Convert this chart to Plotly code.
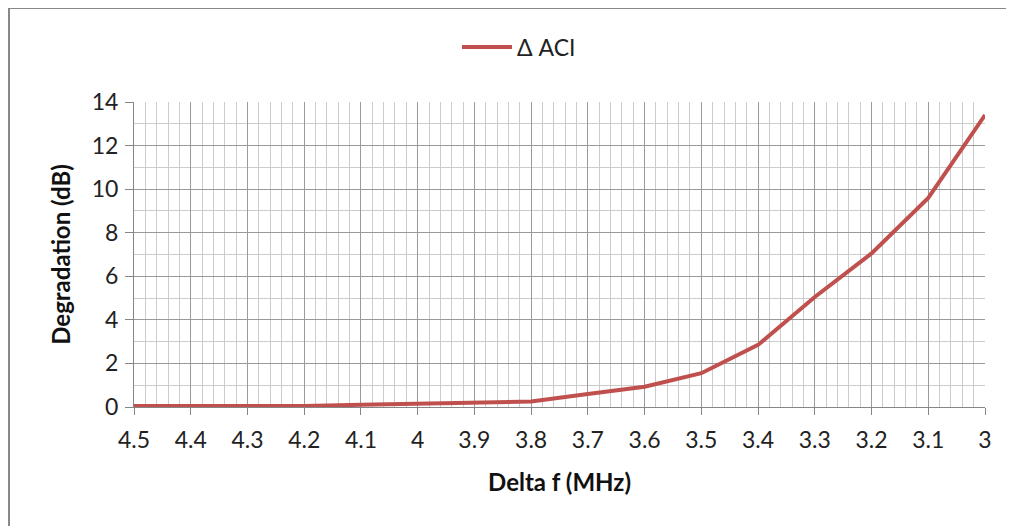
import plotly.graph_objects as go

delta_f = [4.5, 4.4, 4.3, 4.2, 4.1, 4.0, 3.9, 3.8, 3.7, 3.6, 3.5, 3.4, 3.3, 3.2, 3.1, 3.0]
degradation = [0.05, 0.05, 0.05, 0.05, 0.1, 0.15, 0.2, 0.25, 0.6, 0.93, 1.55, 2.85, 5.05, 7.05, 9.6, 13.4]
x_ticks = [4.5, 4.4, 4.3, 4.2, 4.1, 4.0, 3.9, 3.8, 3.7, 3.6, 3.5, 3.4, 3.3, 3.2, 3.1, 3.0]
x_tick_labels = ["4.5", "4.4", "4.3", "4.2", "4.1", "4", "3.9", "3.8", "3.7", "3.6", "3.5", "3.4", "3.3", "3.2", "3.1", "3"]
y_ticks = [0, 2, 4, 6, 8, 10, 12, 14]
series_name = "Δ ACI"

FONT = "Lato"
OFF = 8  # page body margin
W, H = 1014 - OFF, 526 - OFF
L, T = 134 - OFF, 102 - OFF
R = W - (985 - OFF)
B = H - (407 - OFF)
pw, ph = W - L - R, H - T - B

def px_x(x):
    return (x - OFF - L) / pw

def px_y(y):
    return (H - B - (y - OFF)) / ph

fig = go.Figure()
fig.add_trace(go.Scatter(
    x=delta_f, y=degradation, mode="lines", name=series_name,
    line=dict(color="#C0504D", width=4),
))

fig.update_layout(
    width=W, height=H,
    margin=dict(l=L, r=R, t=T, b=B, autoexpand=False),
    paper_bgcolor="white", plot_bgcolor="white",
    font=dict(family=FONT, size=23, color="#222222"),
    showlegend=True,
    legend=dict(
        orientation="h", x=px_x(519), xanchor="center",
        y=px_y(47), yanchor="middle",
        font=dict(family=FONT, size=23, color="#222222"),
        itemwidth=50, bgcolor="rgba(0,0,0,0)",
    ),
    xaxis=dict(
        range=[4.5, 3.0], tickmode="array", tickvals=x_ticks, ticktext=x_tick_labels,
        showgrid=True, gridcolor="#9a9a9a", gridwidth=1,
        minor=dict(dtick=0.02, tick0=3.0, showgrid=True, gridcolor="#cccccc", gridwidth=1, ticks=""),
        showline=True, linecolor="#868686", linewidth=1, mirror=False,
        ticks="outside", ticklen=7, tickcolor="#868686",
        ticklabelstandoff=5,
        tickfont=dict(family=FONT, size=23, color="#222222"),
        title=dict(text="<b>Delta f (MHz)</b>", font=dict(family=FONT, size=24, color="#111111"), standoff=22),
        zeroline=False,
    ),
    yaxis=dict(
        range=[0, 14], tickmode="array", tickvals=y_ticks,
        showgrid=True, gridcolor="#9a9a9a", gridwidth=1,
        minor=dict(dtick=1, showgrid=True, gridcolor="#cccccc", gridwidth=1, ticks=""),
        showline=True, linecolor="#868686", linewidth=1,
        ticks="outside", ticklen=8, tickcolor="#868686",
        ticklabelstandoff=2,
        tickfont=dict(family=FONT, size=23, color="#222222"),
        title=dict(text="<b>Degradation (dB)</b>", font=dict(family=FONT, size=24, color="#111111"), standoff=14),
        zeroline=False,
    ),
    shapes=[dict(
        type="rect", xref="paper", yref="paper",
        x0=px_x(9), x1=px_x(1007), y0=px_y(560), y1=px_y(8),
        line=dict(color="#888888", width=2), fillcolor="rgba(0,0,0,0)", layer="below",
    )],
)

fig.write_html("out.html")
